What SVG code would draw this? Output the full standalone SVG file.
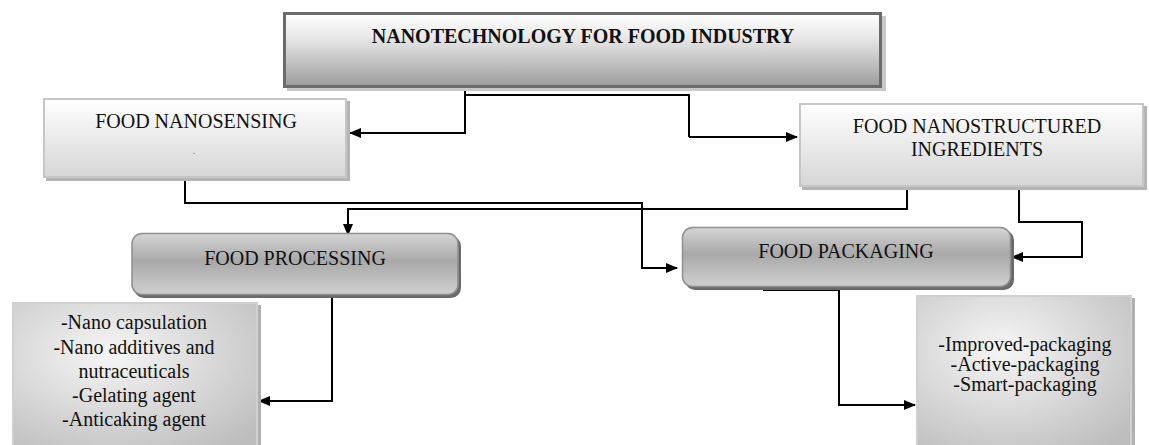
<svg xmlns="http://www.w3.org/2000/svg" width="1149" height="445" viewBox="0 0 1149 445">
<style>
text{font-family:'Liberation Serif','DejaVu Serif',serif;fill:#111;text-anchor:middle;font-size:20px}
.b{font-weight:bold}
.c{fill:none;stroke:#000;stroke-width:2}
</style>
<defs>
<linearGradient id="gTop" x1="0" y1="0" x2="0" y2="1">
<stop offset="0" stop-color="#ffffff"/><stop offset="0.35" stop-color="#e6e6e6"/><stop offset="1" stop-color="#9c9c9c"/>
</linearGradient>
<linearGradient id="gLight" x1="0" y1="0" x2="0" y2="1">
<stop offset="0" stop-color="#ffffff"/><stop offset="1" stop-color="#d6d6d6"/>
</linearGradient>
<linearGradient id="gPill" x1="0" y1="0" x2="0" y2="1">
<stop offset="0" stop-color="#d4d4d4"/><stop offset="0.45" stop-color="#a9a9a9"/><stop offset="1" stop-color="#cfcfcf"/>
</linearGradient>
<radialGradient id="gList" cx="0.4" cy="0.35" r="0.8">
<stop offset="0" stop-color="#f6f6f6"/><stop offset="1" stop-color="#bdbdbd"/>
</radialGradient>
<marker id="ah" viewBox="0 0 12 10" refX="11" refY="5" markerWidth="12" markerHeight="10" markerUnits="userSpaceOnUse" orient="auto">
<path d="M0 0 L12 5 L0 10 Z" fill="#000"/>
</marker>
</defs>

<g id="connectors">
<path class="c" d="M465 88 V95 H689 V137" />
<path class="c" d="M465 95 V133 H350" marker-end="url(#ah)"/>
<path class="c" d="M689 137 H797" marker-end="url(#ah)"/>
<path class="c" d="M185 180 V203 H642 V268 H677" marker-end="url(#ah)"/>
<path class="c" d="M907 188 V209 H348 V235" marker-end="url(#ah)"/>
<path class="c" d="M1019 188 V222 H1082 V257 H1012" marker-end="url(#ah)"/>
<path class="c" d="M332 296 V401 H259" marker-end="url(#ah)"/>
<path class="c" d="M763 290 H839 V405 H915" marker-end="url(#ah)"/>
</g>

<g id="node-top">
<rect x="287" y="16" width="599" height="75" fill="#c8c8c8"/>
<rect x="284.5" y="13.5" width="596" height="73" fill="url(#gTop)" stroke="#6b6b6b" stroke-width="3"/>
<text class="b" x="583" y="43">NANOTECHNOLOGY FOR FOOD INDUSTRY</text>
</g>

<g id="node-nanosensing">
<rect x="46" y="101" width="304" height="80" fill="#b4b4b4"/>
<rect x="44" y="99" width="302" height="78" fill="url(#gLight)" stroke="#c6c6c6" stroke-width="2"/>
<text x="196" y="128">FOOD NANOSENSING</text>
<text x="194" y="154" style="font-size:10px;fill:#777">.</text>
</g>

<g id="node-nanostructured">
<rect x="802" y="106" width="345" height="84" fill="#b4b4b4"/>
<rect x="800" y="104" width="343" height="82" fill="url(#gLight)" stroke="#c6c6c6" stroke-width="2"/>
<text x="977" y="133">FOOD NANOSTRUCTURED</text>
<text x="977" y="156">INGREDIENTS</text>
</g>

<g id="node-processing">
<rect x="134" y="236" width="327" height="62" rx="10" fill="#6a6a6a"/>
<rect x="132" y="233.5" width="326" height="61" rx="10" fill="url(#gPill)" stroke="#8f8f8f" stroke-width="1.5"/>
<text x="295" y="265">FOOD PROCESSING</text>
</g>

<g id="node-packaging">
<rect x="685" y="230" width="329" height="60" rx="10" fill="#6a6a6a"/>
<rect x="682.5" y="227.5" width="328" height="59" rx="10" fill="url(#gPill)" stroke="#8f8f8f" stroke-width="1.5"/>
<text x="846" y="258">FOOD PACKAGING</text>
</g>

<g id="node-processing-list">
<rect x="15" y="305" width="246" height="145" fill="#b0b0b0"/>
<rect x="13" y="303" width="244" height="145" fill="url(#gList)" stroke="#d0d0d0" stroke-width="2"/>
<text x="134" y="329">-Nano capsulation</text>
<text x="134" y="354">-Nano additives and</text>
<text x="134" y="378">nutraceuticals</text>
<text x="134" y="402">-Gelating agent</text>
<text x="134" y="426">-Anticaking agent</text>
</g>

<g id="node-packaging-list">
<rect x="919" y="298" width="216" height="150" fill="#b0b0b0"/>
<rect x="917" y="296" width="214" height="152" fill="url(#gList)" stroke="#d0d0d0" stroke-width="2"/>
<text x="1025" y="351">-Improved-packaging</text>
<text x="1025" y="371">-Active-packaging</text>
<text x="1025" y="391">-Smart-packaging</text>
</g>
</svg>
